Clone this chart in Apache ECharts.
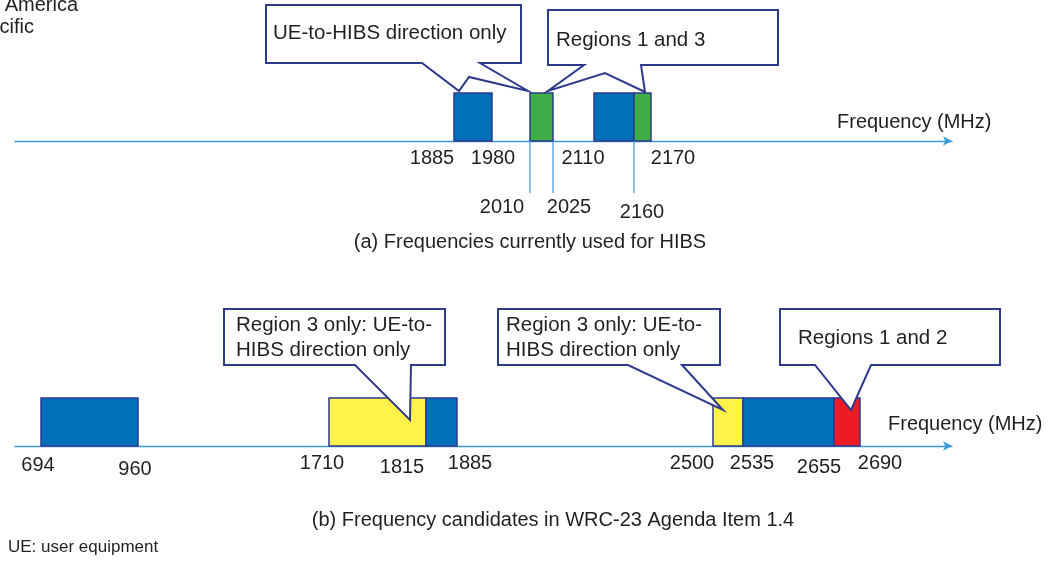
<!DOCTYPE html>
<html>
<head>
<meta charset="utf-8">
<script src="https://cdn.jsdelivr.net/npm/echarts@6/dist/echarts.min.js"></script>
<style>
  html, body { margin: 0; padding: 0; background: #fff; }
  #chart { width: 1056px; height: 561px; }
</style>
</head>
<body>
<div id="chart"></div>
<script>
// band edges (MHz) and where each one sits on the schematic axis
const topTicks = [1885, 1980, 2010, 2025, 2110, 2160, 2170];
const topTickPos = [439, 477, 515, 538, 579, 619, 636];
const bottomTicks = [694, 960, 1710, 1815, 1885, 2500, 2535, 2655, 2690];
const bottomTickPos = [26, 123, 314, 411, 442, 698, 728, 819, 845];

// bands: start, end, kind
const topBandStart = [1885, 2010, 2110, 2160];
const topBandEnd = [1980, 2025, 2160, 2170];
const topBandKind = ['pair', 'region13', 'pair', 'region13'];
const bottomBandStart = [694, 1710, 1815, 2500, 2535, 2655];
const bottomBandEnd = [960, 1815, 1885, 2535, 2655, 2690];
const bottomBandKind = ['pair', 'region3', 'pair', 'region3', 'pair', 'region12'];

// ticks with a drop line under the axis
const topDropTicks = [2010, 2025, 2160];

const kindColor = {pair: '#0070ba', region13: '#3fae49', region3: '#fff34a', region12: '#ed1c24'};
const navy = '#2e3a8c';
const axisBlue = '#3d99d8';
const font = '"Liberation Sans", Arial, sans-serif';
const txt = '#231f20';

// label offsets from the edge position (px)
const topLabelOff = {1885: [-22, 17], 1980: [1, 17], 2010: [-28, 66], 2025: [16, 66], 2110: [-11, 17], 2160: [8, 71], 2170: [22, 17]};
const bottomLabelOff = {694: [-3, 19], 960: [-3, 23], 1710: [-7, 17], 1815: [-24, 21], 1885: [13, 17], 2500: [-21, 17], 2535: [9, 17], 2655: [-15, 21], 2690: [20, 17]};

function posOf(ticks, poss, f) { return poss[ticks.indexOf(f)]; }

function bandData(starts, ends, kinds, ticks, poss) {
  return starts.map((s, i) => [posOf(ticks, poss, s), posOf(ticks, poss, ends[i]), kinds[i]]);
}

function bandSeries(idx, data) {
  return {
    type: 'custom', xAxisIndex: idx, yAxisIndex: idx, clip: false,
    data: data,
    renderItem: function (params, api) {
      const p0 = api.coord([api.value(0), 1]);
      const p1 = api.coord([api.value(1), 0]);
      return {
        type: 'rect',
        shape: {x: p0[0], y: p0[1], width: p1[0] - p0[0], height: p1[1] - p0[1]},
        style: {fill: kindColor[data[params.dataIndex][2]], stroke: navy, lineWidth: 1.5}
      };
    }
  };
}

function labelSeries(idx, ticks, poss, offs) {
  return {
    type: 'custom', xAxisIndex: idx, yAxisIndex: idx, clip: false,
    data: ticks.map((t, i) => [poss[i], 0, t]),
    renderItem: function (params, api) {
      const p = api.coord([api.value(0), 0]);
      const t = api.value(2);
      const o = offs[t];
      return {
        type: 'text',
        style: {x: p[0] + o[0], y: p[1] + o[1], text: String(t), fill: txt,
          font: '20px ' + font, align: 'center', verticalAlign: 'middle'}
      };
    }
  };
}

const dropSeries = {
  type: 'custom', xAxisIndex: 0, yAxisIndex: 0, clip: false,
  data: topDropTicks.map(t => [posOf(topTicks, topTickPos, t), 0]),
  renderItem: function (params, api) {
    const p = api.coord([api.value(0), 0]);
    return {type: 'line', shape: {x1: p[0], y1: p[1], x2: p[0], y2: p[1] + 52},
      style: {stroke: axisBlue, lineWidth: 1.2}};
  }
};

function axisX(idx) {
  return {
    type: 'value', gridIndex: idx, min: 0, max: 937,
    axisLine: {show: true, symbol: ['none', 'arrow'], symbolSize: [7, 9], symbolOffset: [0, 0],
      lineStyle: {color: axisBlue, width: 1.3}},
    axisTick: {show: false}, axisLabel: {show: false}, splitLine: {show: false}
  };
}
function axisY(idx) {
  return {type: 'value', gridIndex: idx, min: 0, max: 1, show: false};
}

function callout(points, lines, tx, ty) {
  return [
    {type: 'polygon', shape: {points: points}, z: 10,
      style: {fill: '#fff', stroke: navy, lineWidth: 2, lineJoin: 'miter'}},
    {type: 'text', x: tx, y: ty, z: 11,
      style: {text: lines.join('\n'), font: '20.5px ' + font, fill: txt, lineHeight: 25, verticalAlign: 'top'}}
  ];
}

function plainText(x, y, s, align, size) {
  return {type: 'text', x: x, y: y, z: 11,
    style: {text: s, font: (size || 20) + 'px ' + font, fill: txt, align: align || 'left', verticalAlign: 'middle'}};
}

const chart = echarts.init(document.getElementById('chart'), null, {renderer: 'canvas'});
chart.setOption({
  animation: false,
  backgroundColor: '#fff',
  grid: [
    {left: 15, width: 937, top: 93, height: 48},
    {left: 15, width: 937, top: 398, height: 48}
  ],
  xAxis: [axisX(0), axisX(1)],
  yAxis: [axisY(0), axisY(1)],
  series: [
    bandSeries(0, bandData(topBandStart, topBandEnd, topBandKind, topTicks, topTickPos)),
    bandSeries(1, bandData(bottomBandStart, bottomBandEnd, bottomBandKind, bottomTicks, bottomTickPos)),
    labelSeries(0, topTicks, topTickPos, topLabelOff),
    labelSeries(1, bottomTicks, bottomTickPos, bottomLabelOff),
    dropSeries
  ],
  graphic: [].concat(
    callout([[266, 5], [521, 5], [521, 63], [480, 63], [528, 91], [469, 77], [459, 91], [422, 63], [266, 63]],
      ['UE-to-HIBS direction only'], 273, 21),
    callout([[548, 10], [778, 10], [778, 65], [641, 65], [645, 92], [605, 73], [548, 91], [584, 65], [548, 65]],
      ['Regions 1 and 3'], 556, 28),
    callout([[224, 309], [445, 309], [445, 365], [411, 365], [410, 420], [355, 365], [224, 365]],
      ['Region 3 only: UE-to-', 'HIBS direction only'], 236, 313),
    callout([[498, 309], [720, 309], [720, 365], [682, 365], [723, 410], [628, 365], [498, 365]],
      ['Region 3 only: UE-to-', 'HIBS direction only'], 506, 313),
    callout([[780, 309], [1000, 309], [1000, 365], [871, 365], [851, 410], [815, 365], [780, 365]],
      ['Regions 1 and 2'], 798, 326),
    [
      plainText(837, 122, 'Frequency (MHz)'),
      plainText(888, 424, 'Frequency (MHz)'),
      plainText(78, 5, 'North America', 'right'),
      plainText(34, 27, 'Asia-Pacific', 'right'),
      plainText(530, 242, '(a) Frequencies currently used for HIBS', 'center'),
      plainText(553, 520, '(b) Frequency candidates in WRC-23 Agenda Item 1.4', 'center', 20),
      plainText(8, 547, 'UE: user equipment', null, 17)
    ]
  )
});
</script>
</body>
</html>
